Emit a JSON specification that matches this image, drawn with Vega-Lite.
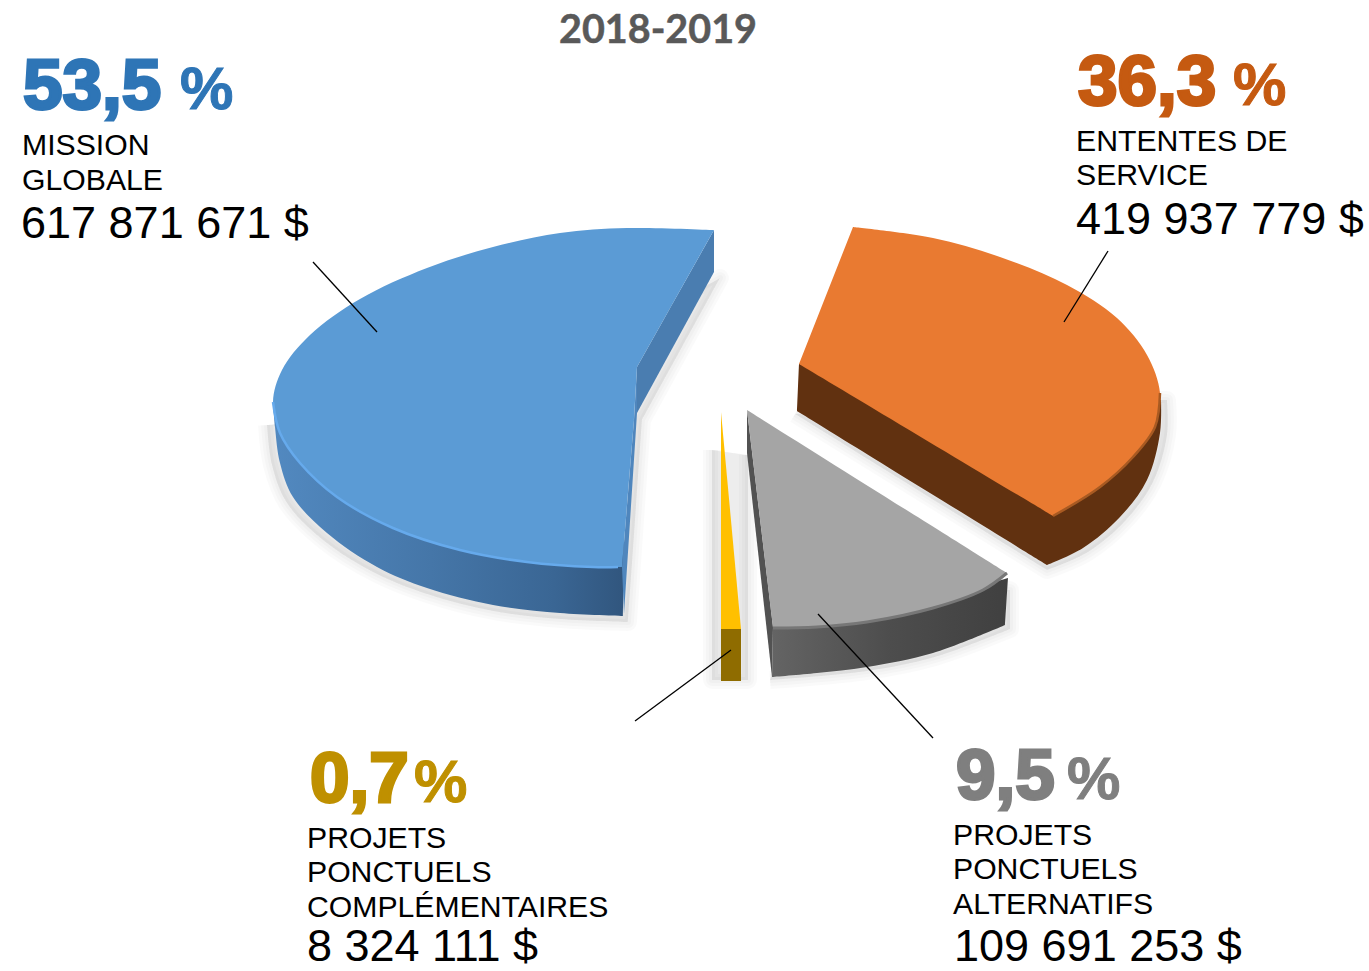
{"$schema":"https://vega.github.io/schema/vega-lite/v6.json","width":1369,"height":971,"autosize":"none","padding":0,"background":"white","config":{"view":{"stroke":null}},
"datasets":{
"outlines":[
{"s":"shadow-blue","i":0,"x":267,"y":425},{"s":"shadow-blue","i":1,"x":272,"y":465},{"s":"shadow-blue","i":2,"x":287,"y":503},{"s":"shadow-blue","i":3,"x":323,"y":540},{"s":"shadow-blue","i":4,"x":375,"y":573},{"s":"shadow-blue","i":5,"x":427,"y":594},{"s":"shadow-blue","i":6,"x":493,"y":611},{"s":"shadow-blue","i":7,"x":560,"y":619},{"s":"shadow-blue","i":8,"x":628,"y":622},{"s":"shadow-blue","i":9,"x":628,"y":622},{"s":"shadow-blue","i":10,"x":642,"y":420},{"s":"shadow-blue","i":11,"x":642,"y":420},{"s":"shadow-blue","i":12,"x":720,"y":278},{"s":"shadow-blue","i":13,"x":720,"y":278},{"s":"shadow-blue","i":14,"x":500,"y":400},{"s":"shadow-blue","i":15,"x":500,"y":400},
{"s":"shadow-gold","i":0,"x":712,"y":450},{"s":"shadow-gold","i":1,"x":712,"y":450},{"s":"shadow-gold","i":2,"x":712,"y":680},{"s":"shadow-gold","i":3,"x":712,"y":680},{"s":"shadow-gold","i":4,"x":748,"y":680},{"s":"shadow-gold","i":5,"x":748,"y":680},{"s":"shadow-gold","i":6,"x":748,"y":455},{"s":"shadow-gold","i":7,"x":748,"y":455},
{"s":"shadow-gray","i":0,"x":770,"y":680},{"s":"shadow-gray","i":1,"x":770,"y":680},{"s":"shadow-gray","i":2,"x":867,"y":671},{"s":"shadow-gray","i":3,"x":935,"y":657},{"s":"shadow-gray","i":4,"x":1010,"y":629},{"s":"shadow-gray","i":5,"x":1010,"y":629},{"s":"shadow-gray","i":6,"x":1010,"y":590},{"s":"shadow-gray","i":7,"x":1010,"y":590},{"s":"shadow-gray","i":8,"x":800,"y":600},{"s":"shadow-gray","i":9,"x":800,"y":600},
{"s":"shadow-orange","i":0,"x":795,"y":414},{"s":"shadow-orange","i":1,"x":795,"y":414},{"s":"shadow-orange","i":2,"x":1047,"y":570},{"s":"shadow-orange","i":3,"x":1047,"y":570},{"s":"shadow-orange","i":4,"x":1088,"y":552},{"s":"shadow-orange","i":5,"x":1126,"y":520},{"s":"shadow-orange","i":6,"x":1153,"y":482},{"s":"shadow-orange","i":7,"x":1167,"y":435},{"s":"shadow-orange","i":8,"x":1167,"y":400},{"s":"shadow-orange","i":9,"x":1167,"y":400},{"s":"shadow-orange","i":10,"x":1000,"y":400},{"s":"shadow-orange","i":11,"x":1000,"y":400},
{"s":"blue-side","i":0,"x":273,"y":402},{"s":"blue-side","i":1,"x":273,"y":402},{"s":"blue-side","i":2,"x":275,"y":427},{"s":"blue-side","i":3,"x":280,"y":463},{"s":"blue-side","i":4,"x":293,"y":497},{"s":"blue-side","i":5,"x":327,"y":533},{"s":"blue-side","i":6,"x":377,"y":567},{"s":"blue-side","i":7,"x":427,"y":588},{"s":"blue-side","i":8,"x":493,"y":605},{"s":"blue-side","i":9,"x":560,"y":613},{"s":"blue-side","i":10,"x":623,"y":616},{"s":"blue-side","i":11,"x":623,"y":616},{"s":"blue-side","i":12,"x":624,"y":540},{"s":"blue-side","i":13,"x":624,"y":540},{"s":"blue-side","i":14,"x":450,"y":450},{"s":"blue-side","i":15,"x":450,"y":450},
{"s":"blue-back","i":0,"x":714,"y":230},{"s":"blue-back","i":1,"x":714,"y":272},{"s":"blue-back","i":2,"x":637,"y":413},{"s":"blue-back","i":3,"x":637,"y":367},
{"s":"blue-strip","i":0,"x":637,"y":367},{"s":"blue-strip","i":1,"x":637,"y":413},{"s":"blue-strip","i":2,"x":624,"y":614},{"s":"blue-strip","i":3,"x":622,"y":567},{"s":"blue-strip","i":4,"x":634,"y":420},
{"s":"blue-top","i":0,"x":714,"y":230},{"s":"blue-top","i":1,"x":714,"y":230},{"s":"blue-top","i":2,"x":627,"y":228},{"s":"blue-top","i":3,"x":560,"y":233},{"s":"blue-top","i":4,"x":493,"y":247},{"s":"blue-top","i":5,"x":427,"y":268},{"s":"blue-top","i":6,"x":360,"y":299},{"s":"blue-top","i":7,"x":310,"y":335},{"s":"blue-top","i":8,"x":282,"y":370},{"s":"blue-top","i":9,"x":273,"y":402},{"s":"blue-top","i":10,"x":280,"y":433},{"s":"blue-top","i":11,"x":300,"y":463},{"s":"blue-top","i":12,"x":337,"y":497},{"s":"blue-top","i":13,"x":393,"y":528},{"s":"blue-top","i":14,"x":460,"y":550},{"s":"blue-top","i":15,"x":527,"y":562},{"s":"blue-top","i":16,"x":593,"y":567},{"s":"blue-top","i":17,"x":622,"y":567},{"s":"blue-top","i":18,"x":622,"y":567},{"s":"blue-top","i":19,"x":634,"y":420},{"s":"blue-top","i":20,"x":634,"y":420},{"s":"blue-top","i":21,"x":637,"y":367},{"s":"blue-top","i":22,"x":637,"y":367},
{"s":"blue-rim","i":0,"x":273,"y":402},{"s":"blue-rim","i":1,"x":280,"y":433},{"s":"blue-rim","i":2,"x":300,"y":463},{"s":"blue-rim","i":3,"x":337,"y":497},{"s":"blue-rim","i":4,"x":393,"y":528},{"s":"blue-rim","i":5,"x":460,"y":550},{"s":"blue-rim","i":6,"x":527,"y":562},{"s":"blue-rim","i":7,"x":593,"y":567},{"s":"blue-rim","i":8,"x":618,"y":567},
{"s":"orange-side","i":0,"x":799,"y":364},{"s":"orange-side","i":1,"x":799,"y":364},{"s":"orange-side","i":2,"x":797,"y":411},{"s":"orange-side","i":3,"x":797,"y":411},{"s":"orange-side","i":4,"x":1047,"y":565},{"s":"orange-side","i":5,"x":1047,"y":565},{"s":"orange-side","i":6,"x":1083,"y":548},{"s":"orange-side","i":7,"x":1120,"y":517},{"s":"orange-side","i":8,"x":1147,"y":480},{"s":"orange-side","i":9,"x":1160,"y":433},{"s":"orange-side","i":10,"x":1161,"y":400},{"s":"orange-side","i":11,"x":1161,"y":400},{"s":"orange-side","i":12,"x":1000,"y":400},{"s":"orange-side","i":13,"x":1000,"y":400},
{"s":"orange-top","i":0,"x":853,"y":227},{"s":"orange-top","i":1,"x":853,"y":227},{"s":"orange-top","i":2,"x":933,"y":238},{"s":"orange-top","i":3,"x":1000,"y":257},{"s":"orange-top","i":4,"x":1067,"y":285},{"s":"orange-top","i":5,"x":1117,"y":318},{"s":"orange-top","i":6,"x":1147,"y":355},{"s":"orange-top","i":7,"x":1160,"y":393},{"s":"orange-top","i":8,"x":1155,"y":427},{"s":"orange-top","i":9,"x":1133,"y":457},{"s":"orange-top","i":10,"x":1100,"y":487},{"s":"orange-top","i":11,"x":1053,"y":516},{"s":"orange-top","i":12,"x":1053,"y":516},{"s":"orange-top","i":13,"x":799,"y":364},{"s":"orange-top","i":14,"x":799,"y":364},
{"s":"orange-rim","i":0,"x":1160,"y":393},{"s":"orange-rim","i":1,"x":1155,"y":427},{"s":"orange-rim","i":2,"x":1133,"y":457},{"s":"orange-rim","i":3,"x":1100,"y":487},{"s":"orange-rim","i":4,"x":1053,"y":516},
{"s":"gray-strip","i":0,"x":747,"y":410},{"s":"gray-strip","i":1,"x":747,"y":453},{"s":"gray-strip","i":2,"x":772,"y":677},{"s":"gray-strip","i":3,"x":773,"y":627},
{"s":"gray-side","i":0,"x":772,"y":677},{"s":"gray-side","i":1,"x":772,"y":677},{"s":"gray-side","i":2,"x":817,"y":673},{"s":"gray-side","i":3,"x":867,"y":667},{"s":"gray-side","i":4,"x":933,"y":653},{"s":"gray-side","i":5,"x":1005,"y":625},{"s":"gray-side","i":6,"x":1005,"y":625},{"s":"gray-side","i":7,"x":1008,"y":578},{"s":"gray-side","i":8,"x":1008,"y":578},{"s":"gray-side","i":9,"x":933,"y":600},{"s":"gray-side","i":10,"x":933,"y":600},{"s":"gray-side","i":11,"x":773,"y":620},{"s":"gray-side","i":12,"x":773,"y":620},
{"s":"gray-top","i":0,"x":747,"y":410},{"s":"gray-top","i":1,"x":747,"y":410},{"s":"gray-top","i":2,"x":1007,"y":573},{"s":"gray-top","i":3,"x":1007,"y":573},{"s":"gray-top","i":4,"x":983,"y":590},{"s":"gray-top","i":5,"x":933,"y":608},{"s":"gray-top","i":6,"x":867,"y":622},{"s":"gray-top","i":7,"x":817,"y":627},{"s":"gray-top","i":8,"x":773,"y":628},{"s":"gray-top","i":9,"x":773,"y":628},
{"s":"gray-rim","i":0,"x":1007,"y":573},{"s":"gray-rim","i":1,"x":983,"y":590},{"s":"gray-rim","i":2,"x":933,"y":608},{"s":"gray-rim","i":3,"x":867,"y":622},{"s":"gray-rim","i":4,"x":817,"y":627},{"s":"gray-rim","i":5,"x":773,"y":628},
{"s":"gold-top","i":0,"x":721,"y":412},{"s":"gold-top","i":1,"x":741,"y":629},{"s":"gold-top","i":2,"x":721,"y":629},
{"s":"gold-side","i":0,"x":721,"y":629},{"s":"gold-side","i":1,"x":741,"y":629},{"s":"gold-side","i":2,"x":741,"y":681},{"s":"gold-side","i":3,"x":721,"y":681},
{"s":"leader-blue","i":0,"x":313,"y":262},{"s":"leader-blue","i":1,"x":377,"y":332},
{"s":"leader-orange","i":0,"x":1108,"y":251},{"s":"leader-orange","i":1,"x":1064,"y":322},
{"s":"leader-gray","i":0,"x":818,"y":614},{"s":"leader-gray","i":1,"x":933,"y":738},
{"s":"leader-gold","i":0,"x":635,"y":721},{"s":"leader-gold","i":1,"x":731,"y":650}
],
"labels":[
{"t":"2018-2019","k":"title","c":"title","x":658,"y":43},
{"t":"53,5","k":"pct","c":"blue","x":23,"y":109},{"t":"%","k":"sign","c":"blue","x":180,"y":109},
{"t":"MISSION","k":"name","c":"blue","x":22,"y":155},
{"t":"GLOBALE","k":"name","c":"blue","x":22,"y":190},
{"t":"617 871 671 $","k":"amount","c":"blue","x":21,"y":238},
{"t":"36,3","k":"pct","c":"orange","x":1078,"y":105},{"t":"%","k":"sign","c":"orange","x":1233,"y":105},
{"t":"ENTENTES DE","k":"name","c":"orange","x":1076,"y":151},
{"t":"SERVICE","k":"name","c":"orange","x":1076,"y":185},
{"t":"419 937 779 $","k":"amount","c":"orange","x":1076,"y":234},
{"t":"9,5","k":"pct","c":"gray","x":956,"y":799},{"t":"%","k":"sign","c":"gray","x":1067,"y":799},
{"t":"PROJETS","k":"name","c":"gray","x":953,"y":845},
{"t":"PONCTUELS","k":"name","c":"gray","x":953,"y":879},
{"t":"ALTERNATIFS","k":"name","c":"gray","x":953,"y":914},
{"t":"109 691 253 $","k":"amount","c":"gray","x":954,"y":961},
{"t":"0,7","k":"pct","c":"gold","x":310,"y":802},{"t":"%","k":"sign","c":"gold","x":414,"y":802},
{"t":"PROJETS","k":"name","c":"gold","x":307,"y":848},
{"t":"PONCTUELS","k":"name","c":"gold","x":307,"y":882},
{"t":"COMPLÉMENTAIRES","k":"name","c":"gold","x":307,"y":917},
{"t":"8 324 111 $","k":"amount","c":"gold","x":307,"y":961}
]},
"data":{"name":"outlines"},
"encoding":{
"x":{"field":"x","type":"quantitative","axis":null,"scale":{"domain":[0,1369],"nice":false,"zero":false}},
"y":{"field":"y","type":"quantitative","axis":null,"scale":{"domain":[0,971],"reverse":true,"nice":false,"zero":false}},
"order":{"field":"i","type":"quantitative"}
},
"layer":[
{"transform":[{"filter":"indexof(datum.s,'shadow')===0"}],"mark":{"type":"line","interpolate":"catmull-rom","fill":"#000000","fillOpacity":0.025,"stroke":"#000000","strokeOpacity":0.018,"strokeWidth":18,"strokeJoin":"round"},"encoding":{"detail":{"field":"s"}}},
{"transform":[{"filter":"indexof(datum.s,'shadow')===0"}],"mark":{"type":"line","interpolate":"catmull-rom","fill":"#000000","fillOpacity":0.025,"stroke":"#000000","strokeOpacity":0.018,"strokeWidth":12,"strokeJoin":"round"},"encoding":{"detail":{"field":"s"}}},
{"transform":[{"filter":"indexof(datum.s,'shadow')===0"}],"mark":{"type":"line","interpolate":"catmull-rom","fill":"#000000","fillOpacity":0.025,"stroke":"#000000","strokeOpacity":0.018,"strokeWidth":6,"strokeJoin":"round"},"encoding":{"detail":{"field":"s"}}},
{"transform":[{"filter":"datum.s==='blue-back'"}],"mark":{"type":"line","fill":"#4a7db0","strokeWidth":0}},
{"transform":[{"filter":"datum.s==='blue-side'"}],"mark":{"type":"line","interpolate":"catmull-rom","strokeWidth":0,"fill":{"gradient":"linear","x1":0,"y1":0,"x2":1,"y2":0,"stops":[{"offset":0,"color":"#5289c0"},{"offset":0.45,"color":"#4576a8"},{"offset":0.8,"color":"#3a6694"},{"offset":1,"color":"#31567e"}]}}},
{"transform":[{"filter":"datum.s==='blue-strip'"}],"mark":{"type":"line","fill":"#4f86bd","strokeWidth":0}},
{"transform":[{"filter":"datum.s==='blue-top'"}],"mark":{"type":"line","interpolate":"catmull-rom","fill":"#5b9bd5","strokeWidth":0}},
{"transform":[{"filter":"datum.s==='blue-rim'"}],"mark":{"type":"line","stroke":"#66aaec","strokeWidth":2.5,"interpolate":"catmull-rom"}},
{"transform":[{"filter":"datum.s==='orange-side'"}],"mark":{"type":"line","interpolate":"catmull-rom","fill":"#613110","strokeWidth":0}},
{"transform":[{"filter":"datum.s==='orange-top'"}],"mark":{"type":"line","interpolate":"catmull-rom","fill":"#e97a31","strokeWidth":0}},
{"transform":[{"filter":"datum.s==='orange-rim'"}],"mark":{"type":"line","interpolate":"catmull-rom","stroke":"#a85a22","strokeWidth":2.5}},
{"transform":[{"filter":"datum.s==='gray-strip'"}],"mark":{"type":"line","fill":"#525252","strokeWidth":0}},
{"transform":[{"filter":"datum.s==='gray-side'"}],"mark":{"type":"line","interpolate":"catmull-rom","strokeWidth":0,"fill":{"gradient":"linear","x1":0,"y1":0,"x2":1,"y2":0,"stops":[{"offset":0,"color":"#646464"},{"offset":0.5,"color":"#4d4d4d"},{"offset":1,"color":"#404040"}]}}},
{"transform":[{"filter":"datum.s==='gray-top'"}],"mark":{"type":"line","interpolate":"catmull-rom","fill":"#a5a5a5","strokeWidth":0}},
{"transform":[{"filter":"datum.s==='gray-rim'"}],"mark":{"type":"line","interpolate":"catmull-rom","stroke":"#777777","strokeWidth":3}},
{"transform":[{"filter":"datum.s==='gold-top'"}],"mark":{"type":"line","fill":"#ffc000","strokeWidth":0}},
{"transform":[{"filter":"datum.s==='gold-side'"}],"mark":{"type":"line","fill":"#8f6c00","strokeWidth":0}},
{"transform":[{"filter":"indexof(datum.s,'leader')===0"}],"mark":{"type":"line","stroke":"#000000","strokeWidth":1.3},"encoding":{"detail":{"field":"s"}}},
{"data":{"name":"labels"},"transform":[{"filter":"datum.k==='title'"}],"mark":{"type":"text","font":"Lato","fontWeight":"bold","fontSize":39.5,"align":"center","baseline":"alphabetic","fill":"#595959","stroke":"#595959","strokeWidth":0.5},"encoding":{"text":{"field":"t"},"order":{"value":null}}},
{"data":{"name":"labels"},"transform":[{"filter":"datum.k==='name'"}],"mark":{"type":"text","font":"Liberation Sans","fontSize":30.2,"align":"left","baseline":"alphabetic","fill":"#000000"},"encoding":{"text":{"field":"t"},"order":{"value":null}}},
{"data":{"name":"labels"},"transform":[{"filter":"datum.k==='amount'"}],"mark":{"type":"text","font":"Liberation Sans","fontSize":45,"align":"left","baseline":"alphabetic","fill":"#000000"},"encoding":{"text":{"field":"t"},"order":{"value":null}}},
{"data":{"name":"labels"},"transform":[{"filter":"datum.k==='pct'"}],"mark":{"type":"text","font":"Liberation Sans","fontWeight":"bold","fontSize":71,"align":"left","baseline":"alphabetic","strokeWidth":3},"encoding":{"text":{"field":"t"},"order":{"value":null},
"color":{"field":"c","type":"nominal","legend":null,"scale":{"domain":["blue","orange","gray","gold"],"range":["#2e75b6","#c55a11","#7f7f7f","#bf9000"]}},
"stroke":{"field":"c","type":"nominal","legend":null,"scale":{"domain":["blue","orange","gray","gold"],"range":["#2e75b6","#c55a11","#7f7f7f","#bf9000"]}}}},
{"data":{"name":"labels"},"transform":[{"filter":"datum.k==='sign'"}],"mark":{"type":"text","font":"Liberation Sans","fontWeight":"bold","fontSize":60,"align":"left","baseline":"alphabetic","strokeWidth":1},"encoding":{"text":{"field":"t"},"order":{"value":null},
"color":{"field":"c","type":"nominal","legend":null,"scale":{"domain":["blue","orange","gray","gold"],"range":["#2e75b6","#c55a11","#7f7f7f","#bf9000"]}},
"stroke":{"field":"c","type":"nominal","legend":null,"scale":{"domain":["blue","orange","gray","gold"],"range":["#2e75b6","#c55a11","#7f7f7f","#bf9000"]}}}}
]}
